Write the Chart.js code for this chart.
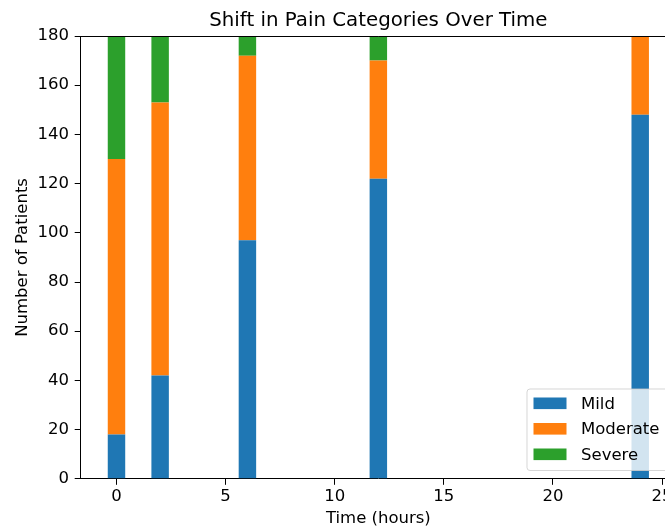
<!DOCTYPE html>
<html lang="en">

<head>
	<meta charset="UTF-8" />
	<title>Shift in Pain Categories Over Time</title>
	<script src="https://cdn.jsdelivr.net/npm/chart.js@4"></script>
	<style>
		html, body { margin: 0; padding: 0; background: #fff; overflow: hidden; }
		#wrap { width: 700px; height: 529px; }
	</style>
</head>

<body>
	<div id="wrap"><canvas id="chart" width="700" height="529"></canvas></div>
	<script>
		// hours after treatment
		const TIMES = [0, 2, 6, 12, 24];
		const MILD = [18, 42, 97, 122, 148];
		const MODERATE = [112, 111, 75, 48, 32];
		const SEVERE = [50, 27, 8, 10, 0];
		const Y_TICKS = [0, 20, 40, 60, 80, 100, 120, 140, 160, 180];

		const FONT = 'DejaVu Sans';
		Chart.defaults.font.family = FONT;
		Chart.defaults.color = '#000';

		const series = [
			{ label: 'Mild', values: MILD, color: '#1f77b4' },
			{ label: 'Moderate', values: MODERATE, color: '#ff7f0e' },
			{ label: 'Severe', values: SEVERE, color: '#2ca02c' },
		];

		// title, top spine and the matplotlib style legend
		const decor = {
			id: 'decor',
			afterDraw(chart) {
				const { ctx, chartArea: a } = chart;
				ctx.save();

				ctx.strokeStyle = '#000';
				ctx.lineWidth = 1;
				ctx.beginPath();
				ctx.moveTo(a.left, a.top + 0.5);
				ctx.lineTo(a.right, a.top + 0.5);
				ctx.moveTo(a.right - 0.5, a.top);
				ctx.lineTo(a.right - 0.5, a.bottom);
				ctx.stroke();

				ctx.fillStyle = '#000';
				ctx.font = `19.8px "${FONT}"`;
				ctx.textAlign = 'center';
				ctx.textBaseline = 'alphabetic';
				ctx.fillText('Shift in Pain Categories Over Time', (a.left + a.right) / 2, 26);

				// legend box, lower right
				const x0 = 527, y0 = 389, x1 = 668, y1 = 470.5, r = 3;
				ctx.beginPath();
				ctx.roundRect(x0, y0, x1 - x0, y1 - y0, r);
				ctx.fillStyle = 'rgba(255,255,255,0.8)';
				ctx.fill();
				ctx.strokeStyle = 'rgba(204,204,204,0.8)';
				ctx.stroke();

				ctx.font = `16.5px "${FONT}"`;
				ctx.textAlign = 'left';
				ctx.textBaseline = 'middle';
				chart.data.datasets.forEach((ds, i) => {
					const cy = 403.3 + i * 25.5;
					ctx.fillStyle = ds.backgroundColor;
					ctx.fillRect(533.5, cy - 5.8, 33, 11.6);
					ctx.fillStyle = '#000';
					ctx.fillText(ds.label, 581, cy + 1);
				});

				ctx.restore();
			}
		};

		new Chart(document.getElementById('chart'), {
			type: 'bar',
			data: {
				datasets: series.map(s => ({
					label: s.label,
					data: TIMES.map((t, i) => ({ x: t, y: s.values[i] })),
					backgroundColor: s.color,
					borderWidth: 0,
					barPercentage: 0.4,
					categoryPercentage: 1.0,
				})),
			},
			options: {
				responsive: false,
				animation: false,
				devicePixelRatio: 1,
				layout: { padding: { top: 36, right: 24, left: 0, bottom: 0 } },
				plugins: {
					legend: { display: false },
					title: { display: false },
					tooltip: { enabled: false },
				},
				scales: {
					x: {
						type: 'linear',
						stacked: true,
						offset: false,
						min: -1.64,
						max: 25.64,
						afterFit: scale => { scale.height = 50.2; },
						grid: { offset: false, drawOnChartArea: false, drawTicks: true, tickLength: 6, color: '#000' },
						border: { display: true, color: '#000', width: 1 },
						ticks: { stepSize: 5, includeBounds: false, padding: 2, maxRotation: 0, font: { size: 16.5 } },
						title: { display: true, text: 'Time (hours)', font: { size: 16.5 }, padding: { top: 0, bottom: 0 } },
					},
					y: {
						stacked: true,
						min: 0,
						max: 180,
						afterFit: scale => { scale.width = 80.7; },
						afterBuildTicks: scale => { scale.ticks = Y_TICKS.map(v => ({ value: v })); },
						grid: { drawOnChartArea: false, drawTicks: true, tickLength: 6, color: '#000' },
						border: { display: true, color: '#000', width: 1 },
						ticks: { padding: 5.7, font: { size: 16.5 } },
						title: { display: true, text: 'Number of Patients', font: { size: 16.5 }, padding: { top: 12.8, bottom: 0 } },
					},
				},
			},
			plugins: [decor],
		});
	</script>
</body>

</html>
